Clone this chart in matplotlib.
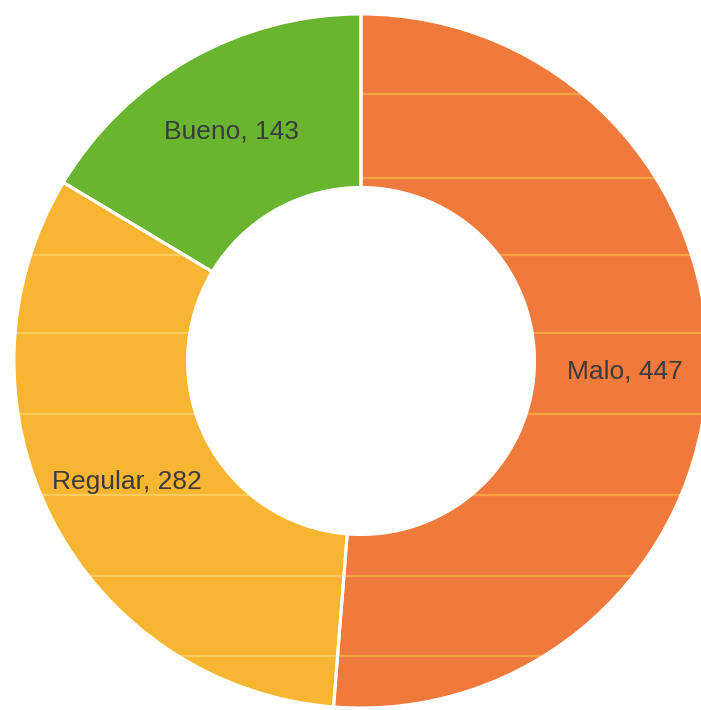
import matplotlib
matplotlib.use("Agg")
import matplotlib.pyplot as plt

# data
categorias = ["Malo", "Regular", "Bueno"]
valores = [447, 282, 143]
colores = ["#F07A3C", "#F8B532", "#6AB52F"]

# faint horizontal stripes visible across the orange and yellow slices
franjas_y = [0.77, 0.527, 0.305, 0.081, -0.153, -0.386, -0.62, -0.85]
franjas_color = {"Malo": "#F9A444", "Regular": "#FCCB5E"}

plt.rcParams['font.family'] = ['Liberation Sans', 'DejaVu Sans']

fig = plt.figure(figsize=(7.01, 7.10), dpi=100)
ax = fig.add_axes([0, 0, 1, 1])

etiquetas = ["{}, {}".format(c, v) for c, v in zip(categorias, valores)]
wedges, textos = ax.pie(valores, labels=etiquetas, colors=colores,
                        startangle=90, counterclock=False,
                        radius=1.0, labeldistance=0.76,
                        wedgeprops=dict(width=0.5, linewidth=0, zorder=1),
                        textprops=dict(fontsize=19, color="#3b3b3b", zorder=5))
for t in textos:
    t.set_horizontalalignment("center")
    t.set_verticalalignment("center")

# stripes clipped to each slice
for w, cat in zip(wedges, categorias):
    if cat not in franjas_color:
        continue
    for y in franjas_y:
        ln = ax.axhline(y, color=franjas_color[cat], lw=1.6, zorder=2)
        ln.set_clip_path(w)

# white separators on top
ax.pie(valores, startangle=90, counterclock=False, radius=1.0,
       colors=["none"] * len(valores),
       wedgeprops=dict(width=0.5, edgecolor="white", linewidth=2.2, zorder=3))

ax.set_xlim(-1.0403, 0.9798)
ax.set_ylim(-1.0058, 1.0403)
ax.set_aspect("auto")
ax.axis("off")

fig.savefig("out.png", dpi=100)
